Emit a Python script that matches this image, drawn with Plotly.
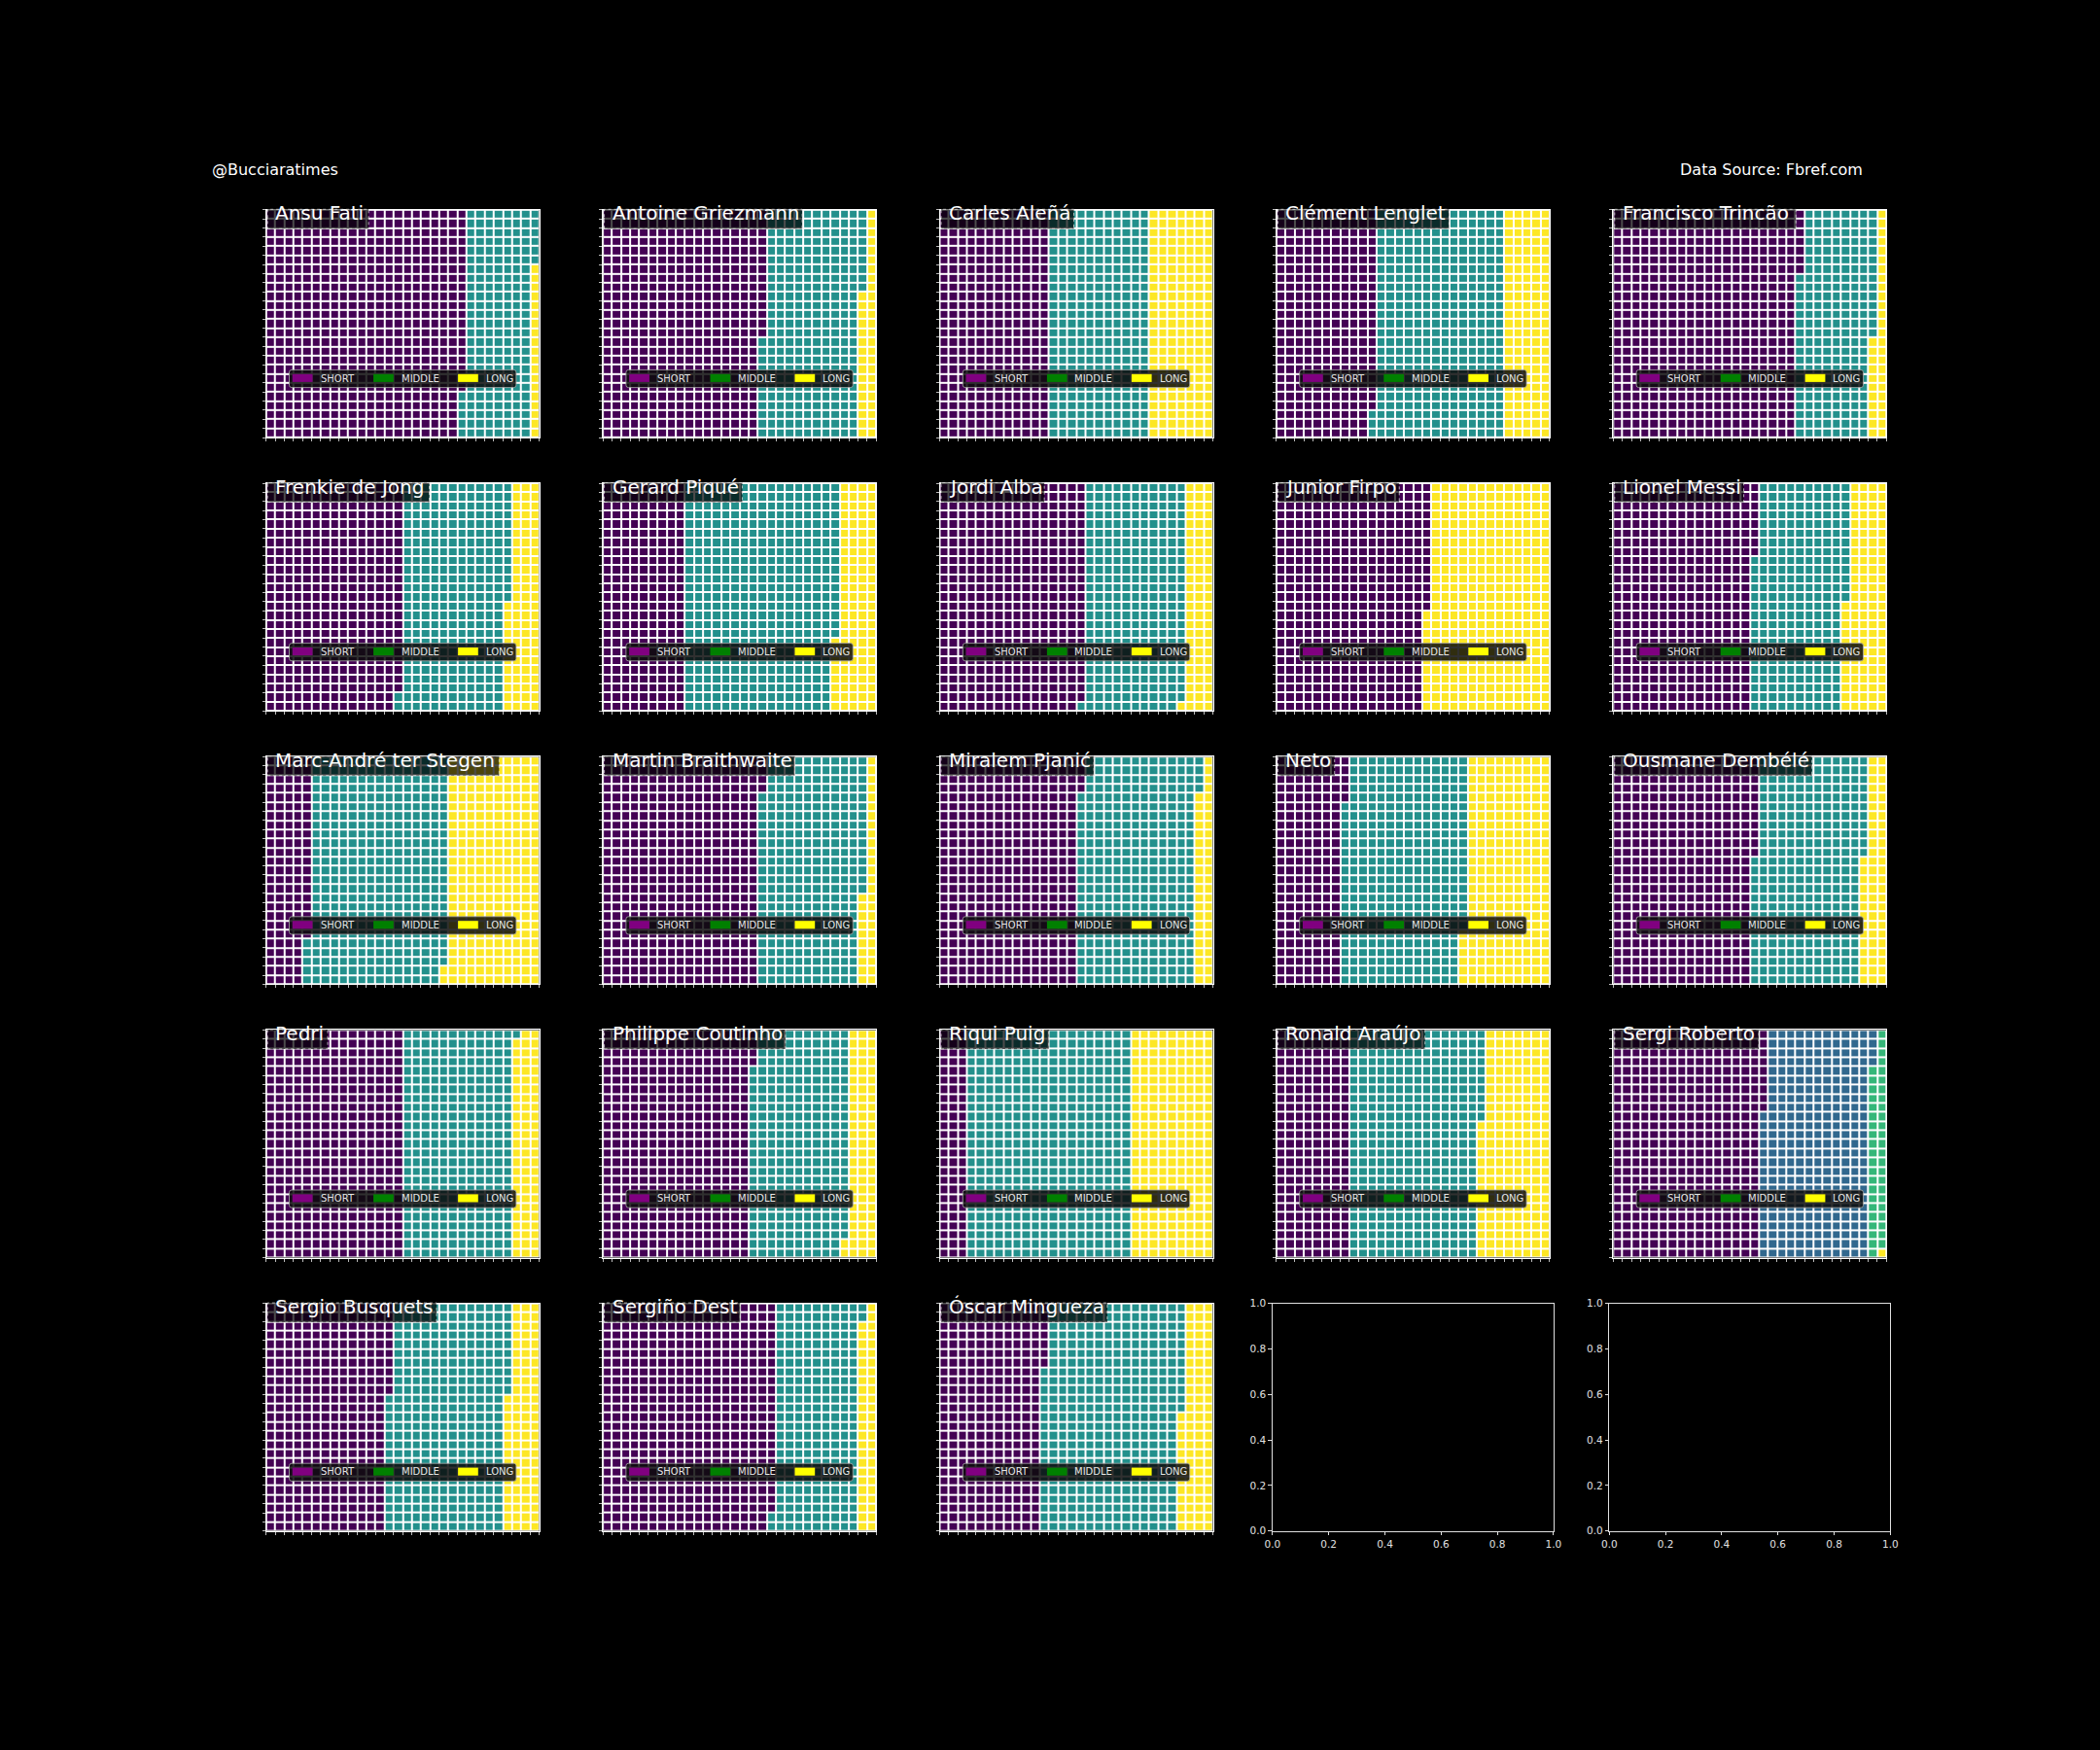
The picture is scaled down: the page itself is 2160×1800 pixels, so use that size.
import numpy as np
import plotly.graph_objects as go
import unicodedata

W, H = 2160, 1800
ROWS, COLS = 25, 30

players = ["Ansu Fati", "Antoine Griezmann", "Carles Aleñá", "Clément Lenglet",
           "Francisco Trincão", "Frenkie de Jong", "Gerard Piqué", "Jordi Alba",
           "Junior Firpo", "Lionel Messi", "Marc-André ter Stegen",
           "Martin Braithwaite", "Miralem Pjanić", "Neto", "Ousmane Dembélé",
           "Pedri", "Philippe Coutinho", "Riqui Puig", "Ronald Araújo",
           "Sergi Roberto", "Sergio Busquets", "Sergiño Dest", "Óscar Mingueza"]
short_tiles = [545, 439, 300, 272, 507, 373, 225, 399, 414, 383, 120, 429,
               379, 180, 386, 375, 404, 75, 200, 409, 335, 473, 282]
middle_tiles = [186, 270, 275, 353, 207, 290, 417, 275, 0, 255, 378, 286,
                325, 339, 300, 301, 269, 450, 360, 295, 325, 229, 380]
long_tiles = [19, 41, 175, 125, 36, 87, 108, 76, 336, 112, 252, 35,
              46, 231, 64, 74, 77, 225, 190, 45, 90, 48, 88]

legend_labels = ["SHORT", "MIDDLE", "LONG"]
legend_colors = ["#800080", "#008000", "#ffff00"]
empty_ticks = [0.0, 0.2, 0.4, 0.6, 0.8, 1.0]

handle_text = "@Bucciaratimes"
source_text = "Data Source: Fbref.com"

FONT = "DejaVu Sans"

# approximate DejaVu Sans advance widths (em)
CW = {' ': .318, '-': .361, 'A': .684, 'B': .686, 'C': .698, 'D': .770, 'E': .632,
      'F': .575, 'G': .775, 'H': .752, 'I': .295, 'J': .295, 'K': .656, 'L': .557,
      'M': .863, 'N': .748, 'O': .787, 'P': .603, 'Q': .787, 'R': .695, 'S': .635,
      'T': .611, 'U': .732, 'V': .684, 'W': .989, 'X': .685, 'Y': .611, 'Z': .685,
      'a': .613, 'b': .635, 'c': .550, 'd': .635, 'e': .615, 'f': .352, 'g': .635,
      'h': .634, 'i': .278, 'j': .278, 'k': .579, 'l': .278, 'm': .974, 'n': .634,
      'o': .612, 'p': .635, 'q': .635, 'r': .411, 's': .521, 't': .392, 'u': .634,
      'v': .592, 'w': .818, 'x': .592, 'y': .592, 'z': .525}


def text_width(s, size):
    tot = 0.0
    for ch in s:
        base = unicodedata.normalize('NFD', ch)[0]
        tot += CW.get(base, 0.6)
    return tot * size


def waffle_matrix(counts):
    flat = []
    for k, c in enumerate(counts):
        flat += [k + 1] * c
    total = ROWS * COLS
    flat = flat[:total]
    flat += [len(counts) + 1] * (total - len(flat))
    return np.array(flat).reshape((COLS, ROWS)).T


def px(x):
    return x / W


def py(y):
    return 1 - y / H


cell_lefts = [269.7 + 346.4 * c for c in range(5)]
row_tops = [215.8 + 281.2 * r for r in range(5)]
WAF_W, WAF_H = 281.0, 234.2
EMPTY_W = 289.0
TITLE_DX = 7.5

fig = go.Figure()
layout = dict(width=W, height=H, template="none", autosize=False,
              margin=dict(l=0, r=0, t=0, b=0, pad=0, autoexpand=False),
              paper_bgcolor="black", plot_bgcolor="black", showlegend=False,
              font=dict(family=FONT, color="white"))
shapes = []
annotations = []

for i in range(25):
    r, c = divmod(i, 5)
    top = row_tops[r]
    sfx = "" if i == 0 else str(i + 1)
    xa, ya = "x" + sfx, "y" + sfx
    if i < len(players):
        left = cell_lefts[c] + (EMPTY_W - WAF_W) / 2
        w, h = WAF_W, WAF_H
    else:
        left = cell_lefts[c]
        w, h = EMPTY_W, WAF_H
    xdom = [px(left), px(left + w)]
    ydom = [py(top + h), py(top)]

    if i < len(players):
        counts = [short_tiles[i], middle_tiles[i], long_tiles[i]]
        z = waffle_matrix(counts)
        fig.add_trace(go.Heatmap(z=z, x=list(range(COLS)), y=list(range(ROWS)),
                                 colorscale="Viridis", showscale=False,
                                 xgap=2, ygap=2, hoverinfo="skip",
                                 xaxis=xa, yaxis=ya))
        common = dict(showgrid=False, zeroline=False, showticklabels=False,
                      ticks="outside", ticklen=3, tickwidth=1, tickcolor="#bbbbbb",
                      showline=True, linecolor="white", linewidth=1, mirror=True,
                      fixedrange=True, automargin=False)
        layout["xaxis" + sfx] = dict(domain=xdom, anchor=ya, range=[-0.5, COLS - 0.5],
                                     tickmode="array",
                                     tickvals=[k - 0.5 for k in range(COLS + 1)], **common)
        layout["yaxis" + sfx] = dict(domain=ydom, anchor=xa, range=[ROWS - 0.5, -0.5],
                                     tickmode="array",
                                     tickvals=[k - 0.5 for k in range(ROWS + 1)], **common)
        # white background showing through the cell gaps
        shapes.append(dict(type="rect", xref="paper", yref="paper", layer="below",
                           x0=xdom[0], x1=xdom[1], y0=ydom[0], y1=ydom[1],
                           fillcolor="white", line=dict(width=0)))
        # title box + title
        tw = text_width(players[i], 20)
        shapes.append(dict(type="rect", xref="paper", yref="paper", layer="above",
                           x0=px(left + 1.5), x1=px(left + TITLE_DX + tw + 5),
                           y0=py(top + 19.5), y1=py(top - 0.5),
                           fillcolor="rgba(0,0,0,0.7)",
                           line=dict(width=1, color="rgba(225,225,225,0.75)", dash="dot")))
        annotations.append(dict(text=players[i], xref="paper", yref="paper",
                                x=px(left + TITLE_DX), y=py(top + 3.6), xanchor="left",
                                yanchor="middle", showarrow=False,
                                font=dict(size=20, color="white", family=FONT)))
        # legend
        bl = left + w / 2 - 116.7
        bt = top + 164.6
        bw, bh = 233.4, 18.2
        rr = 2.5
        x0, x1, y0, y1 = px(bl), px(bl + bw), py(bt + bh), py(bt)
        rx, ry = rr / W, rr / H
        path = (f"M{x0 + rx},{y1} L{x1 - rx},{y1} Q{x1},{y1} {x1},{y1 - ry} "
                f"L{x1},{y0 + ry} Q{x1},{y0} {x1 - rx},{y0} L{x0 + rx},{y0} "
                f"Q{x0},{y0} {x0},{y0 + ry} L{x0},{y1 - ry} Q{x0},{y1} {x0 + rx},{y1} Z")
        shapes.append(dict(type="path", path=path, xref="paper", yref="paper",
                           layer="above", fillcolor="rgba(12,12,12,0.85)",
                           line=dict(width=1, color="rgba(170,170,170,0.8)")))
        patch_off = [3.3, 86.6, 173.6]
        text_off = [31.3, 114.0, 201.3]
        for k in range(3):
            shapes.append(dict(type="rect", xref="paper", yref="paper", layer="above",
                               x0=px(bl + patch_off[k]), x1=px(bl + patch_off[k] + 20.7),
                               y0=py(bt + 12.5), y1=py(bt + 4.4),
                               fillcolor=legend_colors[k], line=dict(width=0)))
            annotations.append(dict(text=legend_labels[k], xref="paper", yref="paper",
                                    x=px(bl + text_off[k]), y=py(bt + 8.6),
                                    xanchor="left", yanchor="middle", showarrow=False,
                                    borderpad=0,
                                    font=dict(size=10, color="#e6e6e6", family=FONT)))
    else:
        fig.add_trace(go.Scatter(x=[], y=[], xaxis=xa, yaxis=ya, hoverinfo="skip"))
        common = dict(showgrid=False, zeroline=False, ticks="outside", ticklen=3.5,
                      tickwidth=1, tickcolor="#e0e0e0", showline=True,
                      linecolor="#e0e0e0", linewidth=1, mirror=True,
                      tickmode="array", tickvals=empty_ticks,
                      ticktext=[f"{v:.1f}" for v in empty_ticks],
                      tickfont=dict(size=10.5, color="#e0e0e0", family=FONT),
                      range=[0, 1], fixedrange=True, automargin=False)
        layout["xaxis" + sfx] = dict(domain=xdom, anchor=ya, **common)
        layout["yaxis" + sfx] = dict(domain=ydom, anchor=xa, **common)

annotations.append(dict(text=handle_text, xref="paper", yref="paper",
                        x=px(215.5), y=py(175), xanchor="left", yanchor="middle",
                        showarrow=False, font=dict(size=16, color="white", family=FONT)))
annotations.append(dict(text=source_text, xref="paper", yref="paper",
                        x=px(1918), y=py(175), xanchor="right", yanchor="middle",
                        showarrow=False, font=dict(size=16, color="white", family=FONT)))

layout["shapes"] = shapes
layout["annotations"] = annotations
fig.update_layout(**layout)

page_css = ("document.documentElement.style.margin='0';"
            "document.documentElement.style.overflow='hidden';"
            "document.documentElement.style.background='black';"
            "document.body.style.margin='0';"
            "document.body.style.overflow='hidden';"
            "document.body.style.background='black';")
fig.write_html("out.html", post_script=page_css)
